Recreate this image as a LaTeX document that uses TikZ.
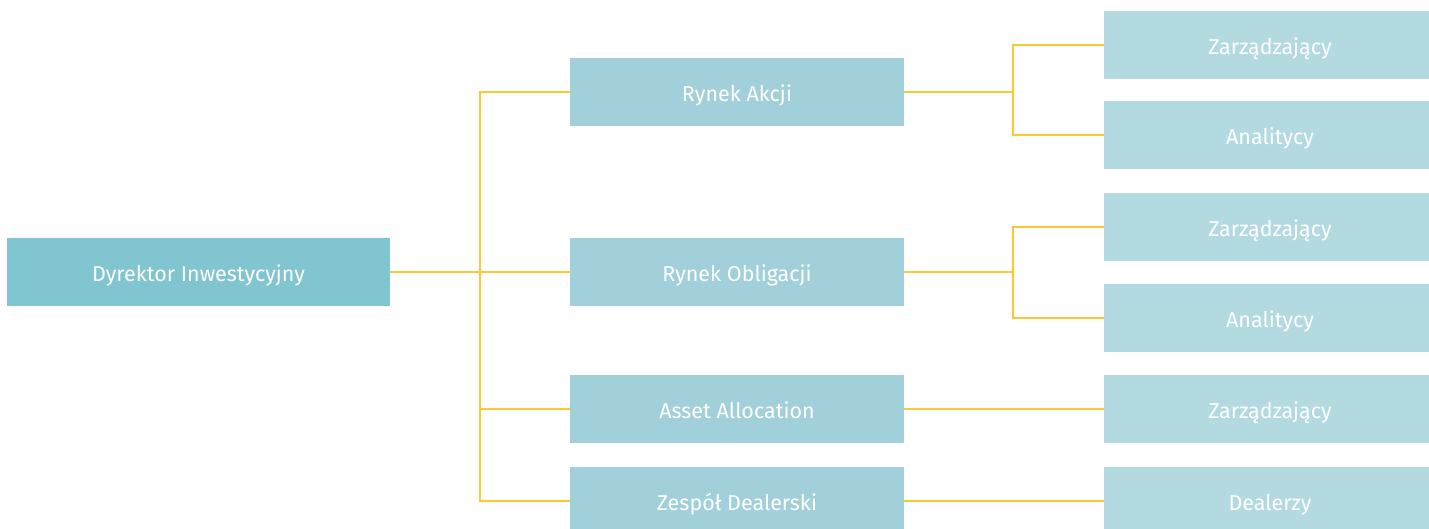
\documentclass[tikz,border=0pt]{standalone}
\usepackage{fontspec}
\setmainfont{Fira Sans}
\definecolor{rootc}{HTML}{80C5CF}
\definecolor{midc}{HTML}{A1D0DA}
\definecolor{leafc}{HTML}{B3DAE0}
\definecolor{linec}{HTML}{F9C933}
\begin{document}
\begin{tikzpicture}[x=1pt,y=-1pt,
  box/.style={draw=none,inner sep=0pt,minimum height=68pt,text height=20pt,text depth=1.4pt,text=white,font=\fontsize{21.5}{24}\selectfont},
  rootbox/.style={box,fill=rootc,minimum width=383pt},
  midbox/.style={box,fill=midc,minimum width=334pt},
  leafbox/.style={box,fill=leafc,minimum width=332pt},
  conn/.style={draw=linec,line width=2pt}]
\useasboundingbox (0,0) rectangle (1429,529);
\node[rootbox] (root) at (198.5,272) {Dyrektor Inwestycyjny};
\node[midbox] (ak) at (737,92) {Rynek Akcji};
\node[midbox] (ob) at (737,272) {Rynek Obligacji};
\node[midbox] (aa) at (737,409) {Asset Allocation};
\node[midbox] (zd) at (737,501) {Zespół Dealerski};
\node[leafbox] (l1) at (1270,45.5) {Zarządzający};
\node[leafbox] (l2) at (1270,135) {Analitycy};
\node[leafbox] (l3) at (1270,227) {Zarządzający};
\node[leafbox] (l4) at (1270,318) {Analitycy};
\node[leafbox] (l5) at (1270,409) {Zarządzający};
\node[leafbox] (l6) at (1270,501) {Dealerzy};
\coordinate (j) at (480,0);
\coordinate (k) at (1013,0);
\draw[conn] (root.east) -- (ob.west);
\draw[conn] (ak.west) -- (ak.west -| j) -- (zd.west -| j) -- (zd.west);
\draw[conn] (aa.west -| j) -- (aa.west);
\draw[conn] (ak.east) -- (ak.east -| k);
\draw[conn] (l1.west) -- (l1.west -| k) -- (l2.west -| k) -- (l2.west);
\draw[conn] (ob.east) -- (ob.east -| k);
\draw[conn] (l3.west) -- (l3.west -| k) -- (l4.west -| k) -- (l4.west);
\draw[conn] (aa.east) -- (l5.west);
\draw[conn] (zd.east) -- (l6.west);
\end{tikzpicture}
\end{document}
